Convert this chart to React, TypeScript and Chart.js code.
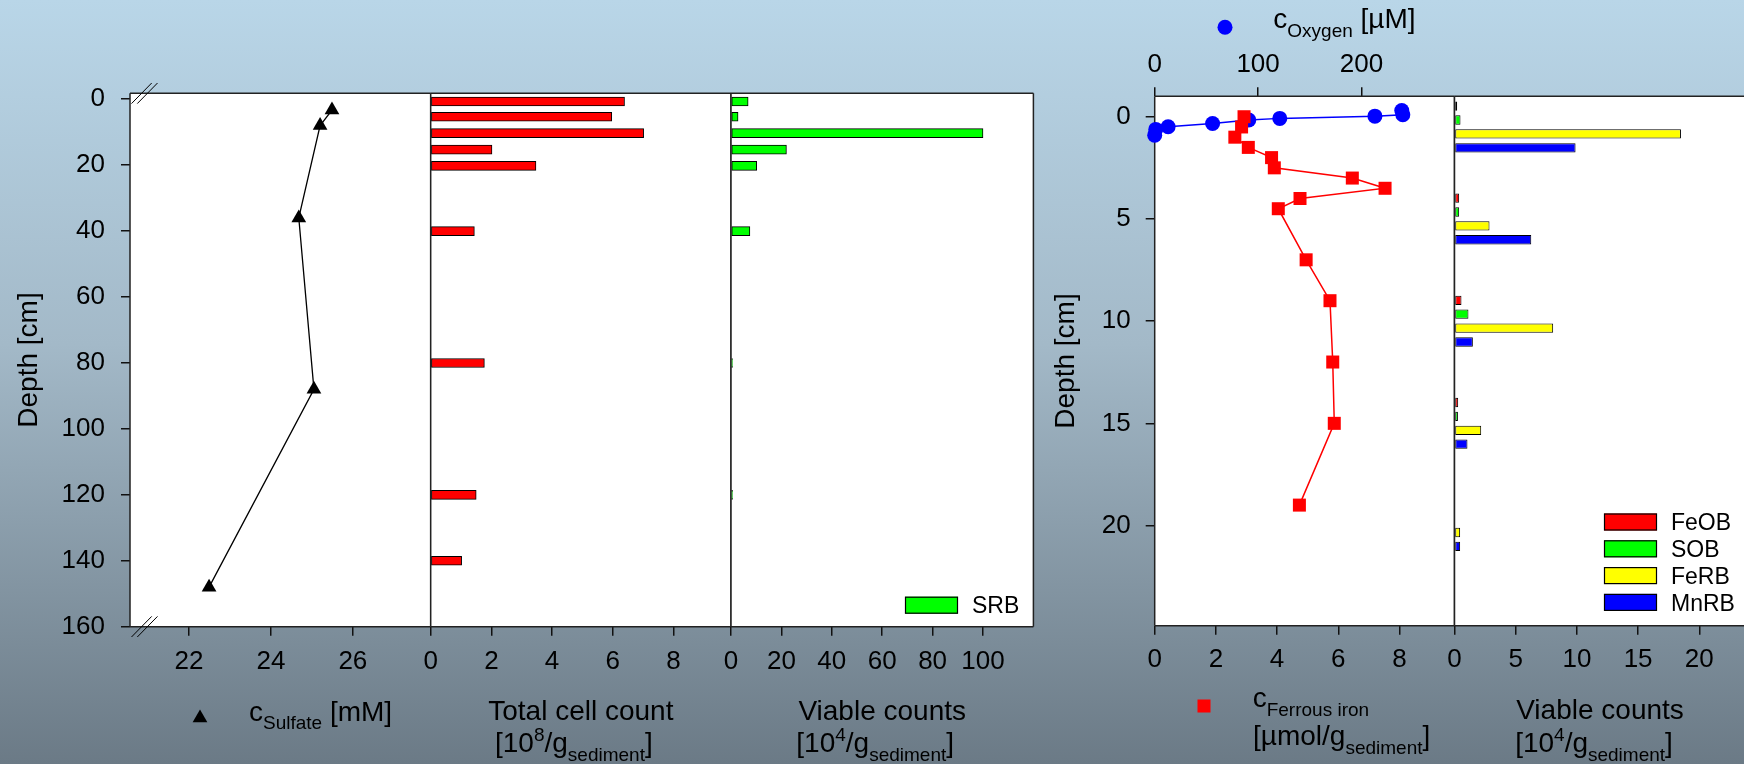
import React, { useEffect, useRef } from 'react';
import { Chart, registerables } from 'chart.js';

Chart.register(...registerables);

const PAGE_W = 1744;
const PAGE_H = 764;
const FONT = "'Liberation Sans', Arial, Helvetica, sans-serif";
const MAIN = 28;
const SMALL = 19;
const TICK = 26;
const LEG = 23;

// ---------------- data: left group (0-160 cm) ----------------
const SULFATE_DEPTH_CM = [3.3, 8, 36, 88, 148];
const SULFATE_MM = [25.49, 25.2, 24.68, 25.05, 22.49];

const CELL_DEPTH_CM = [0.7, 5.3, 10.3, 15.3, 20.2, 40, 80, 120, 140];
const TOTAL_CELLS = [6.39, 5.97, 7.02, 2.02, 3.47, 1.44, 1.77, 1.5, 1.02];
const SRB_COUNTS = [6.8, 2.8, 100, 22, 10.2, 7.5, 0.6, 0.6, null];

// ---------------- data: right group (0-25 cm) ----------------
const OXYGEN_DEPTH_CM = [-0.3, -0.1, -0.03, 0.08, 0.16, 0.33, 0.49, 0.62, 0.9];
const OXYGEN_UM = [239, 240, 213, 121, 91, 56, 13, 1, 0];

const FE_DEPTH_CM = [0, 0.5, 1, 1.5, 2, 2.5, 3, 3.5, 4, 4.5, 7, 9, 12, 15, 19];
const FE_UMOL = [2.92, 2.84, 2.62, 3.06, 3.82, 3.91, 6.46, 7.53, 4.75, 4.04, 4.95, 5.73, 5.82, 5.87, 4.73];

const VIABLE_DEPTH_CM = [0.5, 5, 10, 15, 20];
const FEOB = [0.22, 0.38, 0.57, 0.3, null];
const SOB = [0.49, 0.38, 1.14, 0.28, null];
const FERB = [18.5, 2.86, 8.06, 2.18, 0.46];
const MNRB = [9.89, 6.27, 1.5, 1.06, 0.46];

// ---------------- tick values ----------------
const DEPTH_TICKS_LEFT = [0, 20, 40, 60, 80, 100, 120, 140, 160];
const SULFATE_TICKS = [22, 24, 26];
const CELL_TICKS = [0, 2, 4, 6, 8];
const SRB_TICKS = [0, 20, 40, 60, 80, 100];
const DEPTH_TICKS_RIGHT = [0, 5, 10, 15, 20];
const FE_TICKS = [0, 2, 4, 6, 8];
const OXYGEN_TICKS = [0, 100, 200];
const VIABLE_TICKS = [0, 5, 10, 15, 20];

// ---------------- labels ----------------
type Seg = { t: string; k?: 'sub' | 'sup' };
const DEPTH_TITLE = 'Depth [cm]';
const SULFATE_LABEL: Seg[] = [{ t: 'c' }, { t: 'Sulfate', k: 'sub' }, { t: ' [mM]' }];
const TOTAL_LABEL_1: Seg[] = [{ t: 'Total cell count' }];
const TOTAL_LABEL_2: Seg[] = [{ t: '[10' }, { t: '8', k: 'sup' }, { t: '/g' }, { t: 'sediment', k: 'sub' }, { t: ']' }];
const VIABLE_LABEL_1: Seg[] = [{ t: 'Viable counts' }];
const VIABLE_LABEL_2: Seg[] = [{ t: '[10' }, { t: '4', k: 'sup' }, { t: '/g' }, { t: 'sediment', k: 'sub' }, { t: ']' }];
const OXYGEN_LABEL: Seg[] = [{ t: 'c' }, { t: 'Oxygen', k: 'sub' }, { t: ' [µM]' }];
const FE_LABEL_1: Seg[] = [{ t: 'c' }, { t: 'Ferrous iron', k: 'sub' }];
const FE_LABEL_2: Seg[] = [{ t: '[µmol/g' }, { t: 'sediment', k: 'sub' }, { t: ']' }];
const SRB_NAME = 'SRB';
const RIGHT_NAMES = ['FeOB', 'SOB', 'FeRB', 'MnRB'];
const RIGHT_COLORS = ['#ff0000', '#00ff00', '#ffff00', '#0000ff'];

// ---------------- helpers ----------------
function segFont(s: Seg) {
  return `${s.k ? SMALL : MAIN}px ${FONT}`;
}

function drawRich(ctx: CanvasRenderingContext2D, segs: Seg[], x: number, baseline: number, align: 'left' | 'center') {
  ctx.save();
  let w = 0;
  for (const s of segs) {
    ctx.font = segFont(s);
    w += ctx.measureText(s.t).width;
  }
  let cx = align === 'center' ? x - w / 2 : x;
  ctx.fillStyle = '#000';
  ctx.textBaseline = 'alphabetic';
  ctx.textAlign = 'left';
  for (const s of segs) {
    ctx.font = segFont(s);
    const dy = s.k === 'sub' ? 8.5 : s.k === 'sup' ? -11 : 0;
    ctx.fillText(s.t, cx, baseline + dy);
    cx += ctx.measureText(s.t).width;
  }
  ctx.restore();
}

function legendBox(ctx: CanvasRenderingContext2D, x: number, y: number, color: string, label: string) {
  ctx.save();
  ctx.fillStyle = color;
  ctx.fillRect(x, y, 53, 17);
  ctx.strokeStyle = '#000';
  ctx.lineWidth = 1.2;
  ctx.strokeRect(x + 0.5, y + 0.5, 52, 16);
  ctx.fillStyle = '#000';
  ctx.font = `${LEG}px ${FONT}`;
  ctx.textBaseline = 'alphabetic';
  ctx.textAlign = 'left';
  ctx.fillText(label, x + 67, y + 8.5 + 8.2);
  ctx.restore();
}

function axis(o: {
  position: 'left' | 'bottom' | 'top';
  min: number;
  max: number;
  ticks: number[];
  size?: number;
  pad?: number;
  reverse?: boolean;
  display?: boolean;
  title?: any;
}) {
  const horizontal = o.position !== 'left';
  return {
    type: 'linear',
    display: o.display ?? true,
    position: o.position,
    min: o.min,
    max: o.max,
    reverse: !!o.reverse,
    offset: false,
    afterBuildTicks: (s: any) => {
      s.ticks = o.ticks.map((v) => ({ value: v }));
    },
    afterFit: (s: any) => {
      if (o.size === undefined) return;
      if (horizontal) s.height = o.size;
      else s.width = o.size;
    },
    grid: { display: true, offset: false, drawOnChartArea: false, drawTicks: true, tickLength: 9, color: '#111', lineWidth: 1.5 },
    border: { display: false },
    ticks: {
      color: '#000',
      font: { family: FONT, size: TICK },
      padding: o.pad ?? 10,
      maxRotation: 0,
      minRotation: 0,
      autoSkip: false,
    },
    title: o.title ?? { display: false },
  };
}

function depthTitle(pad: number) {
  return { display: true, text: DEPTH_TITLE, color: '#000', font: { family: FONT, size: MAIN }, padding: { top: pad, bottom: 0 } };
}

function frame(sides = { left: true, top: true, right: true, bottom: true }) {
  return {
    id: 'panelFrame',
    beforeDraw(chart: any) {
      const { ctx, chartArea: a } = chart;
      ctx.save();
      ctx.fillStyle = '#ffffff';
      ctx.fillRect(a.left, a.top, a.right - a.left, a.bottom - a.top);
      ctx.restore();
    },
    beforeDatasetsDraw(chart: any) {
      const { ctx, chartArea: a } = chart;
      ctx.save();
      ctx.strokeStyle = '#222';
      ctx.lineWidth = 1.5;
      ctx.beginPath();
      if (sides.top) { ctx.moveTo(a.left, a.top); ctx.lineTo(a.right, a.top); }
      if (sides.bottom) { ctx.moveTo(a.left, a.bottom); ctx.lineTo(a.right, a.bottom); }
      if (sides.left) { ctx.moveTo(a.left, a.top); ctx.lineTo(a.left, a.bottom); }
      if (sides.right) { ctx.moveTo(a.right, a.top); ctx.lineTo(a.right, a.bottom); }
      ctx.stroke();
      ctx.restore();
    },
  };
}

function baseOptions(padding: any, scales: any, extra: any = {}) {
  return {
    responsive: false,
    animation: false,
    devicePixelRatio: 1,
    events: [],
    layout: { padding },
    plugins: { legend: { display: false }, tooltip: { enabled: false } },
    scales,
    ...extra,
  };
}

const pairs = (xs: (number | null)[], ys: number[]) => ys.map((y, i) => ({ x: xs[i], y }));

// ---------------- chart builders ----------------
const LEFT_TOP = 93.3;
const LEFT_BOTTOM = 626.7;
const RIGHT_TOP = 96.3;
const RIGHT_BOTTOM = 625.7;
const X_AXIS_H = 60;

function makeSulfate(canvas: HTMLCanvasElement) {
  const extras = {
    id: 'extrasA',
    afterDraw(chart: any) {
      const { ctx, chartArea: a } = chart;
      ctx.save();
      ctx.strokeStyle = '#000';
      ctx.lineWidth = 1;
      ctx.beginPath();
      for (const cy of [a.top, a.bottom]) {
        for (const dx of [0, 5.8]) {
          ctx.moveTo(a.left + 1.5 + dx, cy + 10.3);
          ctx.lineTo(a.left + 21.7 + dx, cy - 10.3);
        }
      }
      ctx.stroke();
      const r = 8.5, mx = 200, my = 718;
      ctx.fillStyle = '#000';
      ctx.beginPath();
      ctx.moveTo(mx, my - r);
      ctx.lineTo(mx + r * Math.sin((2 * Math.PI) / 3), my - r * Math.cos((2 * Math.PI) / 3));
      ctx.lineTo(mx + r * Math.sin((4 * Math.PI) / 3), my - r * Math.cos((4 * Math.PI) / 3));
      ctx.closePath();
      ctx.fill();
      ctx.restore();
      drawRich(ctx, SULFATE_LABEL, 249, 720.7, 'left');
    },
  };
  return new Chart(canvas, {
    type: 'line',
    data: {
      datasets: [
        {
          data: pairs(SULFATE_MM, SULFATE_DEPTH_CM),
          indexAxis: 'y',
          borderColor: '#000',
          borderWidth: 1.3,
          pointStyle: 'triangle',
          pointRadius: 8.5,
          pointBackgroundColor: '#000',
          pointBorderColor: '#000',
          pointBorderWidth: 0,
          clip: false,
        } as any,
      ],
    },
    options: baseOptions(
      { left: 0, top: LEFT_TOP, right: PAGE_W - 430.7, bottom: PAGE_H - LEFT_BOTTOM - X_AXIS_H },
      {
        x: axis({ position: 'bottom', min: 20.56, max: 27.9, ticks: SULFATE_TICKS, size: X_AXIS_H, pad: 11 }),
        y: axis({ position: 'left', min: -1.8, max: 160, reverse: true, ticks: DEPTH_TICKS_LEFT, size: 130, pad: 16, title: depthTitle(12) }),
      }
    ) as any,
    plugins: [frame(), extras],
  });
}

function makeTotal(canvas: HTMLCanvasElement) {
  const extras = {
    id: 'extrasB',
    afterDraw(chart: any) {
      const { ctx, chartArea: a } = chart;
      const cx = (a.left + a.right) / 2;
      drawRich(ctx, TOTAL_LABEL_1, cx, 720, 'center');
      drawRich(ctx, TOTAL_LABEL_2, cx - 7, 752, 'center');
    },
  };
  return new Chart(canvas, {
    type: 'bar',
    data: {
      datasets: [
        {
          data: pairs(TOTAL_CELLS, CELL_DEPTH_CM),
          backgroundColor: '#ff0000',
          borderColor: '#000',
          borderWidth: 1,
          borderSkipped: false,
          barThickness: 9,
        } as any,
      ],
    },
    options: baseOptions(
      { left: 430.7, top: LEFT_TOP, right: PAGE_W - 731, bottom: PAGE_H - LEFT_BOTTOM - X_AXIS_H },
      {
        x: axis({ position: 'bottom', min: 0, max: 9.9, ticks: CELL_TICKS, size: X_AXIS_H, pad: 11 }),
        y: axis({ position: 'left', min: -1.8, max: 160, reverse: true, ticks: DEPTH_TICKS_LEFT, display: false }),
      },
      { indexAxis: 'y' }
    ) as any,
    plugins: [frame(), extras],
  });
}

function makeSrb(canvas: HTMLCanvasElement) {
  const extras = {
    id: 'extrasC',
    afterDraw(chart: any) {
      const { ctx, chartArea: a } = chart;
      const cx = (a.left + a.right) / 2;
      drawRich(ctx, VIABLE_LABEL_1, cx, 720, 'center');
      drawRich(ctx, VIABLE_LABEL_2, cx - 7, 752, 'center');
      legendBox(ctx, 905, 596.7, '#00ff00', SRB_NAME);
    },
  };
  return new Chart(canvas, {
    type: 'bar',
    data: {
      datasets: [
        {
          data: pairs(SRB_COUNTS, CELL_DEPTH_CM),
          backgroundColor: '#00ff00',
          borderColor: '#000',
          borderWidth: 1,
          borderSkipped: false,
          barThickness: 9,
        } as any,
      ],
    },
    options: baseOptions(
      { left: 731, top: LEFT_TOP, right: PAGE_W - 1033.4, bottom: PAGE_H - LEFT_BOTTOM - X_AXIS_H },
      {
        x: axis({ position: 'bottom', min: 0, max: 120, ticks: SRB_TICKS, size: X_AXIS_H, pad: 11 }),
        y: axis({ position: 'left', min: -1.8, max: 160, reverse: true, ticks: DEPTH_TICKS_LEFT, display: false }),
      },
      { indexAxis: 'y' }
    ) as any,
    plugins: [frame(), extras],
  });
}

function makeChem(canvas: HTMLCanvasElement) {
  const extras = {
    id: 'extrasD',
    afterDraw(chart: any) {
      const { ctx } = chart;
      ctx.save();
      ctx.fillStyle = '#0000ff';
      ctx.beginPath();
      ctx.arc(1225, 27.3, 7.5, 0, Math.PI * 2);
      ctx.fill();
      ctx.fillStyle = '#ff0000';
      const h = 9.2 * Math.SQRT1_2;
      ctx.fillRect(1204 - h, 706 - h, 2 * h, 2 * h);
      ctx.restore();
      drawRich(ctx, OXYGEN_LABEL, 1273.3, 28.3, 'left');
      drawRich(ctx, FE_LABEL_1, 1252.7, 707.3, 'left');
      drawRich(ctx, FE_LABEL_2, 1253, 745, 'left');
    },
  };
  return new Chart(canvas, {
    type: 'line',
    data: {
      datasets: [
        {
          data: pairs(FE_UMOL, FE_DEPTH_CM),
          xAxisID: 'x',
          yAxisID: 'y',
          indexAxis: 'y',
          borderColor: '#ff0000',
          borderWidth: 1.5,
          pointStyle: 'rect',
          pointRadius: 9.2,
          pointBackgroundColor: '#ff0000',
          pointBorderWidth: 0,
          clip: false,
        } as any,
        {
          data: pairs(OXYGEN_UM, OXYGEN_DEPTH_CM),
          xAxisID: 'x2',
          yAxisID: 'y',
          indexAxis: 'y',
          borderColor: '#0000ff',
          borderWidth: 1.5,
          pointStyle: 'circle',
          pointRadius: 7.5,
          pointBackgroundColor: '#0000ff',
          pointBorderWidth: 0,
          clip: false,
        } as any,
      ],
    },
    options: baseOptions(
      { left: 1044.7, top: RIGHT_TOP - 50, right: PAGE_W - 1454.5, bottom: PAGE_H - RIGHT_BOTTOM - X_AXIS_H },
      {
        x: axis({ position: 'bottom', min: 0, max: 9.8, ticks: FE_TICKS, size: X_AXIS_H, pad: 10 }),
        x2: axis({ position: 'top', min: 0, max: 290, ticks: OXYGEN_TICKS, size: 50, pad: 7 }),
        y: axis({ position: 'left', min: -1, max: 24.9, reverse: true, ticks: DEPTH_TICKS_RIGHT, size: 110, pad: 15, title: depthTitle(5) }),
      }
    ) as any,
    plugins: [frame(), extras],
  });
}

function makeViable(canvas: HTMLCanvasElement) {
  const extras = {
    id: 'extrasE',
    afterDraw(chart: any) {
      const { ctx } = chart;
      drawRich(ctx, VIABLE_LABEL_1, 1600, 719, 'center');
      drawRich(ctx, VIABLE_LABEL_2, 1594, 752, 'center');
      RIGHT_NAMES.forEach((n, i) => legendBox(ctx, 1604, 513.5 + i * 26.8, RIGHT_COLORS[i], n));
    },
  };
  const series = [FEOB, SOB, FERB, MNRB];
  return new Chart(canvas, {
    type: 'bar',
    data: {
      datasets: series.map((s, i) => ({
        label: RIGHT_NAMES[i],
        data: pairs(s, VIABLE_DEPTH_CM),
        backgroundColor: RIGHT_COLORS[i],
        borderColor: '#000',
        borderWidth: 1,
        borderSkipped: false,
        categoryPercentage: 0.604,
        barPercentage: 0.67,
      })) as any,
    },
    options: baseOptions(
      { left: 1454.5, top: RIGHT_TOP, right: 0, bottom: PAGE_H - RIGHT_BOTTOM - X_AXIS_H },
      {
        x: axis({ position: 'bottom', min: 0, max: 23.65, ticks: VIABLE_TICKS, size: X_AXIS_H, pad: 10 }),
        y: axis({ position: 'left', min: -1, max: 24.9, reverse: true, ticks: DEPTH_TICKS_RIGHT, display: false }),
      },
      { indexAxis: 'y' }
    ) as any,
    plugins: [frame({ left: true, top: true, right: false, bottom: true }), extras],
  });
}

function ChartCanvas({ make }: { make: (c: HTMLCanvasElement) => Chart }) {
  const ref = useRef<HTMLCanvasElement>(null);
  useEffect(() => {
    const chart = make(ref.current as HTMLCanvasElement);
    return () => chart.destroy();
  }, [make]);
  return (
    <canvas
      ref={ref}
      width={PAGE_W}
      height={PAGE_H}
      style={{ position: 'absolute', left: 0, top: 0, width: PAGE_W, height: PAGE_H }}
    />
  );
}

export default function App() {
  return (
    <div
      style={{
        position: 'absolute',
        left: 0,
        top: 0,
        width: PAGE_W,
        height: PAGE_H,
        overflow: 'hidden',
        background: 'linear-gradient(to bottom, #b9d6e8 0%, #a3b9c8 45%, #6b7a86 100%)',
      }}
    >
      <ChartCanvas make={makeSulfate} />
      <ChartCanvas make={makeTotal} />
      <ChartCanvas make={makeSrb} />
      <ChartCanvas make={makeChem} />
      <ChartCanvas make={makeViable} />
    </div>
  );
}
